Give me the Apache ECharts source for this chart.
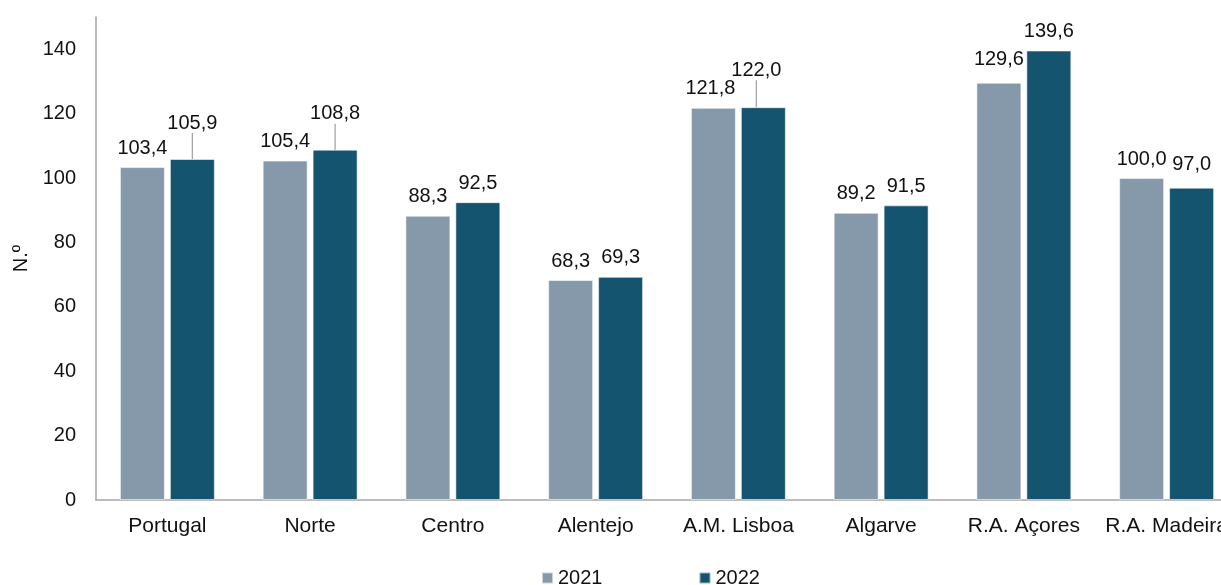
<!DOCTYPE html>
<html>
<head>
<meta charset="utf-8">
<script src="https://cdn.jsdelivr.net/npm/echarts@6/dist/echarts.min.js"></script>
<style>
  html, body { margin: 0; padding: 0; background: #ffffff; }
  #chart { width: 1221px; height: 585px; }
</style>
</head>
<body>
<div id="chart"></div>
<script>
// Regions and yearly values
const categories = ['Portugal', 'Norte', 'Centro', 'Alentejo', 'A.M. Lisboa', 'Algarve', 'R.A. Açores', 'R.A. Madeira'];
const values2021 = [103.4, 105.4, 88.3, 68.3, 121.8, 89.2, 129.6, 100.0];
const values2022 = [105.9, 108.8, 92.5, 69.3, 122.0, 91.5, 139.6, 97.0];
const seriesNames = ['2021', '2022'];
const yTicks = [0, 20, 40, 60, 80, 100, 120, 140];

// Label nudges [dx, dy, withGuideLine] keyed by series then category index
const labelShift = {
  0: { 4: [-3, 0, false], 6: [0, -4, false] },
  1: { 0: [0, -17, true], 1: [0, -17, true], 4: [-7, -18, true], 7: [0, -4, false] }
};

const FONT = 'Liberation Sans, Arial, sans-serif';
const fmt = v => v.toFixed(1).replace('.', ',');

const chart = echarts.init(document.getElementById('chart'));

function barSeries(name, values, color, idx) {
  const shifts = labelShift[idx] || {};
  const data = values.map((v, i) => {
    const s = shifts[i];
    return {
      value: v,
      labelLine: { show: !!(s && s[2]) }
    };
  });
  return {
    name: name,
    type: 'bar',
    data: data,
    barWidth: 45,
    barGap: '11%',
    itemStyle: { color: color, borderColor: 'rgba(255,255,255,0.55)', borderWidth: 1 },
    label: {
      show: true,
      position: 'top',
      distance: 9,
      color: '#111111',
      fontFamily: FONT,
      fontSize: 20,
      formatter: p => fmt(p.value)
    },
    labelLine: { show: false, lineStyle: { color: '#a6a6a6', width: 1.3 } },
    labelLayout: function (p) {
      const s = shifts[p.dataIndex];
      return s ? { dx: s[0], dy: s[1] } : {};
    }
  };
}

chart.setOption({
  animation: false,
  backgroundColor: '#ffffff',
  textStyle: { fontFamily: FONT },
  grid: { left: 96, top: 17, bottom: 85, right: -17, containLabel: false, outerBoundsMode: 'none' },
  legend: {
    data: seriesNames,
    left: 536,
    top: 563,
    itemWidth: 11,
    itemHeight: 11,
    itemGap: 96,
    icon: 'rect',
    textStyle: { fontFamily: FONT, fontSize: 20, color: '#111111' }
  },
  xAxis: {
    type: 'category',
    data: categories,
    axisLine: { show: true, lineStyle: { color: '#a6a6a6', width: 1.5 } },
    axisTick: { show: false },
    axisLabel: { color: '#111111', fontFamily: FONT, fontSize: 21, margin: 16, interval: 0, hideOverlap: false }
  },
  yAxis: {
    type: 'value',
    min: 0,
    max: 150,
    interval: 20,
    name: 'N.º',
    nameLocation: 'middle',
    nameRotate: 90,
    nameGap: 62,
    nameTextStyle: { color: '#111111', fontFamily: FONT, fontSize: 20 },
    axisLine: { show: true, lineStyle: { color: '#a6a6a6', width: 1.5 } },
    axisTick: { show: false },
    splitLine: { show: false },
    axisLabel: {
      color: '#111111', fontFamily: FONT, fontSize: 20, margin: 20,
      showMaxLabel: false,
      formatter: v => (yTicks.indexOf(v) >= 0 ? String(v) : '')
    }
  },
  series: [
    barSeries(seriesNames[0], values2021, '#8699ab', 0),
    barSeries(seriesNames[1], values2022, '#15546f', 1)
  ]
});
</script>
</body>
</html>
